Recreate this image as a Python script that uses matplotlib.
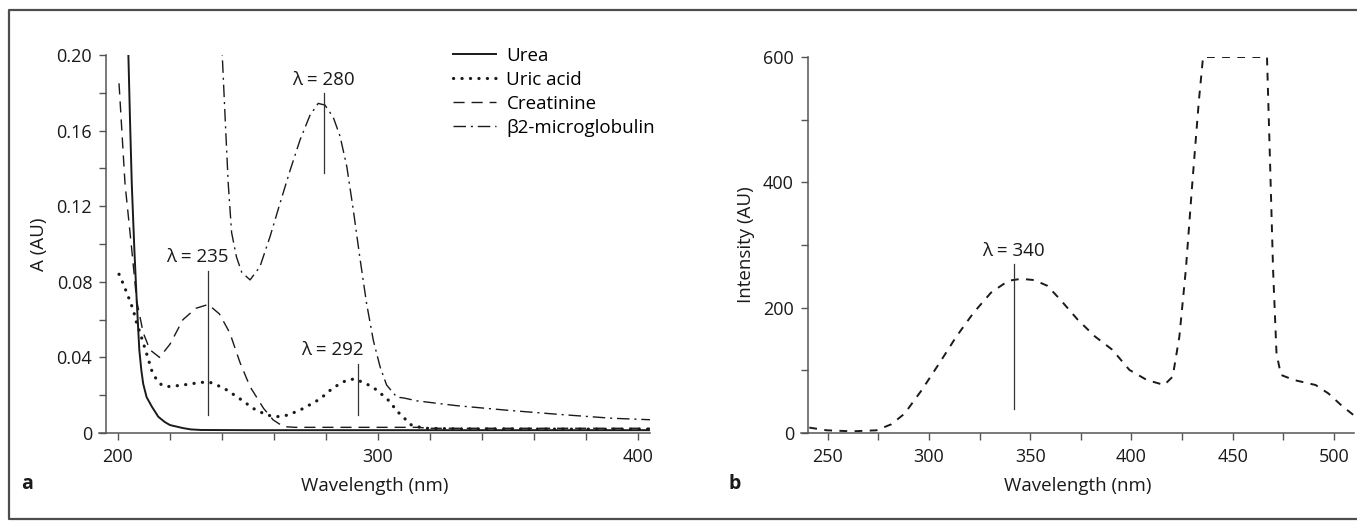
import matplotlib
matplotlib.use("Agg")
import matplotlib.pyplot as plt
from matplotlib.lines import Line2D

plt.rcParams['font.family'] = ['Open Sans', 'DejaVu Sans']
plt.rcParams['font.size'] = 13.5

# ---- panel a: absorbance spectra ----
urea_x = [203.7, 204.0, 204.6, 205.3, 206.3, 207.2, 208.2, 209.0, 209.7, 211.0, 213.0,
          215.5, 218.0, 220.0, 225.0, 228.0, 232.0, 250.0, 300.0, 350.0, 405.0]
urea_y = [0.21, 0.20, 0.167, 0.132, 0.097, 0.070, 0.044, 0.033, 0.026, 0.019, 0.014,
          0.0086, 0.0058, 0.0042, 0.0026, 0.0019, 0.0016, 0.0015, 0.0015, 0.0015, 0.0015]

uric_x = [200.4, 202, 204, 205.9, 207.2, 208.5, 211, 213, 214.9, 216.8, 218.7, 222.6,
          228.3, 231.5, 235.4, 238, 241.8, 247, 252, 257.2, 261, 265.5, 271.3, 277.7,
          282.8, 288, 291, 295.6, 299.5, 304.6, 307, 310, 313, 318, 330, 360, 405]
uric_y = [0.084, 0.079, 0.072, 0.065, 0.058, 0.053, 0.042, 0.033, 0.028, 0.0254, 0.0245,
          0.025, 0.026, 0.0268, 0.0268, 0.0254, 0.0228, 0.018, 0.013, 0.0095, 0.0086,
          0.0095, 0.013, 0.018, 0.024, 0.028, 0.0286, 0.026, 0.0228, 0.0166, 0.012,
          0.008, 0.004, 0.0025, 0.0022, 0.0021, 0.002]

creat_x = [200.4, 202.7, 205.3, 207.2, 209.7, 212.3, 216, 220, 225, 230, 234.7, 239, 243,
           247, 250.8, 256, 259.7, 263.6, 268, 300, 315, 320, 405]
creat_y = [0.185, 0.132, 0.097, 0.070, 0.053, 0.044, 0.040, 0.047, 0.060, 0.066, 0.068,
           0.063, 0.053, 0.037, 0.0245, 0.013, 0.0069, 0.0034, 0.003, 0.003, 0.003,
           0.0025, 0.0025]

b2m_x = [239.8, 240.1, 241.2, 242.4, 243.7, 245.6, 247.6, 250.8, 254.6, 258.5, 262.3,
         266.2, 270, 273.8, 277, 279.6, 282.8, 285.4, 288, 290.5, 293, 295.6, 298.2,
         300.8, 303.3, 307.2, 310, 315, 330, 350, 370, 390, 405]
b2m_y = [0.21, 0.20, 0.167, 0.132, 0.106, 0.093, 0.085, 0.081, 0.088, 0.104, 0.1215,
         0.139, 0.155, 0.168, 0.1744, 0.1735, 0.167, 0.157, 0.141, 0.118, 0.093, 0.0686,
         0.049, 0.035, 0.0254, 0.019, 0.0185, 0.017, 0.0145, 0.012, 0.0098, 0.0078, 0.007]

# peak markers: x, line bottom, line top, label x, label y
peaks_a_x = [234.7, 279.2, 292.2]
peaks_a_lo = [0.0095, 0.1377, 0.0095]
peaks_a_hi = [0.0859, 0.180, 0.0365]
peaks_a_lbl = ['λ = 235', 'λ = 280', 'λ = 292']
peaks_a_lx = [230.6, 279.0, 282.4]
peaks_a_ly = [0.093, 0.187, 0.044]

# ---- panel b: fluorescence ----
fl_x = [240.8, 249.4, 262, 274, 281.4, 287.9, 296.4, 305, 313.5, 322, 330.6, 339.2,
        345.6, 352, 358.4, 364.8, 373.4, 382, 390.5, 399, 407.6, 416.2, 420.4, 423.7,
        426.9, 430, 433.3, 435.4, 467, 468.6, 470, 471.7, 473.9, 480.3, 491, 497.4,
        503.8, 510]
fl_y = [8.6, 4.3, 2.7, 4.3, 14, 31, 68.6, 111, 154, 192, 224, 243, 246, 244, 235, 213,
        181, 154, 133, 100.7, 84.6, 76.6, 90, 154, 261, 395, 529, 600, 600, 422, 261,
        127, 92.7, 84.6, 76.6, 63, 44, 28]
peak_b_x, peak_b_lo, peak_b_hi = 342.0, 39, 269
peak_b_lbl, peak_b_lx, peak_b_ly = 'λ = 340', 341.7, 291

W, H = 1357, 528
fig = plt.figure(figsize=(W / 100, H / 100), dpi=100)

axis_col = '#555555'
ink = '#1a1a1a'
fs = 13.5


def style(ax, spine_x):
    for s in ['top', 'right']:
        ax.spines[s].set_visible(False)
    for s in ['left', 'bottom']:
        ax.spines[s].set_color(axis_col)
        ax.spines[s].set_linewidth(1.1)
    ax.spines['left'].set_position(('data', spine_x))
    ax.tick_params(which='both', direction='out', length=5, width=1.0,
                   color=axis_col, labelcolor=ink, labelsize=13)
    ax.tick_params(axis='x', which='both', pad=5.5)
    ax.tick_params(axis='y', which='both', pad=5)


# panel a
ax = fig.add_axes([99 / W, 95 / H, 551 / W, 378 / H])
ax.plot(urea_x, urea_y, color=ink, lw=1.4, label='Urea')
ax.plot(uric_x, uric_y, color=ink, lw=2.3, linestyle=(0, (0.05, 2.6)),
        dash_capstyle='round', label='Uric acid')
ax.plot(creat_x, creat_y, color=ink, lw=1.0, linestyle=(0, (8, 5)), label='Creatinine')
ax.plot(b2m_x, b2m_y, color=ink, lw=1.0, linestyle=(0, (9, 3.5, 1.5, 3.5)),
        label='β2-microglobulin')
for px, lo, hi, t, lx, ly in zip(peaks_a_x, peaks_a_lo, peaks_a_hi, peaks_a_lbl,
                                 peaks_a_lx, peaks_a_ly):
    ax.plot([px, px], [lo, hi], color='#333333', lw=0.9)
    ax.text(lx, ly, t, ha='center', va='center', fontsize=fs, color=ink)
ax.set_xlim(192.7, 404.6)
ax.set_ylim(0, 0.20)
ax.set_xticks([200, 300, 400])
ax.set_xticks(range(200, 401, 20), minor=True)
ax.set_yticks([0, 0.04, 0.08, 0.12, 0.16, 0.20])
ax.set_yticklabels(['0', '0.04', '0.08', '0.12', '0.16', '0.20'])
ax.set_yticks([0.02, 0.06, 0.10, 0.14, 0.18], minor=True)
style(ax, 195.4)
ax.set_xlabel('Wavelength (nm)', fontsize=fs, color=ink, labelpad=8)
ax.set_ylabel('A (AU)', fontsize=fs, color=ink, labelpad=6)
ax.legend(loc='upper left', bbox_to_anchor=(453 / W, 1 - 47 / H),
          bbox_transform=fig.transFigure, frameon=False, fontsize=fs,
          handlelength=2.3, handletextpad=0.55, labelspacing=0.32,
          borderpad=0, borderaxespad=0)
fig.text(27 / W, 1 - 484 / H, 'a', fontsize=14, fontweight='bold', ha='center',
         va='center', color=ink)

# panel b
bx = fig.add_axes([801 / W, 95 / H, 553 / W, 376 / H])
bx.plot(fl_x, fl_y, color=ink, lw=1.4, linestyle=(0, (4, 3.8)))
bx.plot([peak_b_x, peak_b_x], [peak_b_lo, peak_b_hi], color='#333333', lw=0.9)
bx.text(peak_b_lx, peak_b_ly, peak_b_lbl, ha='center', va='center', fontsize=fs,
        color=ink)
bx.set_xlim(236.7, 510)
bx.set_ylim(0, 600)
bx.set_xticks([250, 300, 350, 400, 450, 500])
bx.set_xticks(range(250, 501, 25), minor=True)
bx.set_yticks([0, 200, 400, 600])
bx.set_yticks([100, 300, 500], minor=True)
style(bx, 240.1)
bx.set_xlabel('Wavelength (nm)', fontsize=fs, color=ink, labelpad=8)
bx.set_ylabel('Intensity (AU)', fontsize=fs, color=ink, labelpad=6)
fig.text(735 / W, 1 - 484 / H, 'b', fontsize=14, fontweight='bold', ha='center',
         va='center', color=ink)

# outer frame
frame = Line2D([W + 5, 8.5, 8.5, W + 5],
               [H - 9.5, H - 9.5, H - 519, H - 519],
               transform=None, color='#4d4d4d', lw=1.6)
fig.lines.append(frame)

fig.savefig('out.png', dpi=100)
